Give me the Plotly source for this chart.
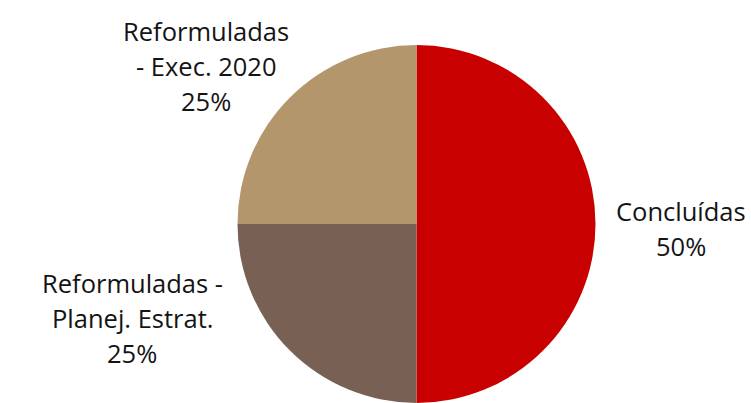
import plotly.graph_objects as go

# Situação das ações
categories = ["Concluídas", "Reformuladas - Planej. Estrat.", "Reformuladas - Exec. 2020"]
values = [50, 25, 25]
colors = ["#C80000", "#786054", "#B4966C"]

# Linhas de cada rótulo (o percentual é acrescentado a partir dos valores)
label_lines = [
    ["Concluídas"],
    ["Reformuladas -", "Planej. Estrat."],
    ["Reformuladas", "- Exec. 2020"],
]
# Centro horizontal e linha de base da primeira linha de cada rótulo (px)
label_pos = [(681, 219), (132, 291), (206, 39)]

W, H = 751, 403
FONT = "Open Sans"
FS = 25.5
LINE = 35

fig = go.Figure(
    go.Pie(
        labels=categories,
        values=values,
        sort=False,
        direction="clockwise",
        rotation=0,
        marker=dict(colors=colors, line=dict(width=0)),
        textinfo="none",
        hoverinfo="label+percent",
        showlegend=False,
        domain=dict(x=[237.5 / W, 595.5 / W], y=[0, 358 / H]),
    )
)

total = sum(values)
annotations = []
for lines, val, (cx, base) in zip(label_lines, values, label_pos):
    all_lines = lines + [f"{round(100 * val / total)}%"]
    for i, t in enumerate(all_lines):
        y_px = base + i * LINE - 8  # centro aproximado da linha
        annotations.append(
            dict(
                x=cx / W,
                y=1 - y_px / H,
                xref="paper",
                yref="paper",
                text=t,
                showarrow=False,
                xanchor="center",
                yanchor="middle",
                font=dict(family=FONT, size=FS, color="#141414"),
            )
        )

fig.update_layout(
    width=W,
    height=H,
    margin=dict(l=0, r=0, t=0, b=0),
    paper_bgcolor="white",
    plot_bgcolor="white",
    annotations=annotations,
)

fig.write_html("out.html")
